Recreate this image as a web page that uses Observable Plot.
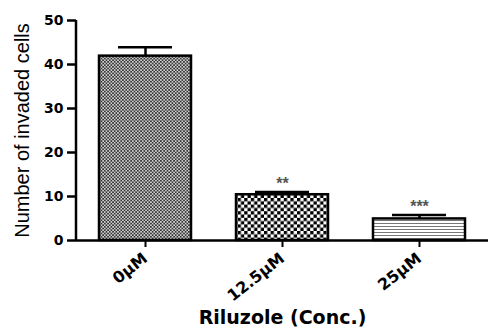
<!DOCTYPE html>
<html>
<head>
<meta charset="utf-8">
<script src="https://cdn.jsdelivr.net/npm/d3@7"></script>
<script src="https://cdn.jsdelivr.net/npm/@observablehq/plot@0.6"></script>
<style>
  html, body { margin: 0; padding: 0; background: #fff; }
  svg { font-family: "Liberation Sans", Arial, sans-serif; }
</style>
</head>
<body>
<div id="chart"></div>
<script>
const categories = ["0μM", "12.5μM", "25μM"];
const means = [41.9, 10.4, 4.9];
const errors = [2.0, 0.6, 0.9];
const stars = ["", "**", "***"];
const yTicks = [0, 10, 20, 30, 40, 50];
const xLabel = "Riluzole (Conc.)";
const yLabel = "Number of invaded cells";

const patternIds = ["pFine", "pCoarse", "pLines"];
const data = categories.map((c, i) => ({
  conc: c, mean: means[i], top: means[i] + errors[i], star: stars[i], pat: `url(#${patternIds[i]})`
}));

const boldFont = "DejaVu Sans, sans-serif";

const plot = Plot.plot({
  width: 488,
  height: 329,
  marginLeft: 76,
  marginRight: 0,
  marginTop: 20,
  marginBottom: 89,
  style: {fontFamily: "Liberation Sans, Arial, sans-serif", background: "#fff", color: "#000"},
  x: {domain: categories, paddingInner: 0.33, paddingOuter: 0.165, axis: null},
  y: {domain: [0, 50], axis: null},
  color: {type: "identity"},
  marks: [
    Plot.barY(data, {x: "conc", y: "mean", fill: "pat", stroke: "black", strokeWidth: 2.5}),
    Plot.ruleX(data, {x: "conc", y1: "mean", y2: "top", stroke: "black", strokeWidth: 2.5}),
    Plot.tickY(data, {x: "conc", y: "top", stroke: "black", strokeWidth: 2.5, insetLeft: 19, insetRight: 19}),
    Plot.text(data, {x: "conc", y: "top", text: "star", dy: -8, fill: "#555", fontSize: 16, fontWeight: "bold"}),
    Plot.ruleY([0], {stroke: "black", strokeWidth: 2.5}),
    Plot.axisY({ticks: yTicks, tickSize: 9, tickPadding: 4, strokeWidth: 2.5, fontSize: 14, fontWeight: "bold", fontFamily: boldFont, label: null}),
    Plot.axisX({tickSize: 7, tickPadding: 9, strokeWidth: 2, tickRotate: -38, fontSize: 16, fontWeight: "bold", fontFamily: boldFont, label: null}),
    Plot.text([xLabel], {frameAnchor: "bottom", dy: 83, fontSize: 19, fontWeight: "bold", fontFamily: boldFont}),
    Plot.text([yLabel], {frameAnchor: "left", textAnchor: "middle", rotate: -90, dx: -54, fontSize: 20})
  ]
});

const svg = d3.select(plot);
const defs = svg.insert("defs", ":first-child");
// fine grey checkerboard
const p1 = defs.append("pattern").attr("id", "pFine").attr("patternUnits", "userSpaceOnUse").attr("width", 3.3).attr("height", 3.3);
p1.append("rect").attr("width", 3.3).attr("height", 3.3).attr("fill", "#d0d0d0");
p1.append("rect").attr("width", 1.65).attr("height", 1.65).attr("fill", "#333");
p1.append("rect").attr("x", 1.65).attr("y", 1.65).attr("width", 1.65).attr("height", 1.65).attr("fill", "#333");
// coarse checkerboard
const p2 = defs.append("pattern").attr("id", "pCoarse").attr("patternUnits", "userSpaceOnUse").attr("width", 6.6).attr("height", 6.6);
p2.append("rect").attr("width", 6.6).attr("height", 6.6).attr("fill", "#fff");
p2.append("rect").attr("width", 3.3).attr("height", 3.3).attr("fill", "#000");
p2.append("rect").attr("x", 3.3).attr("y", 3.3).attr("width", 3.3).attr("height", 3.3).attr("fill", "#000");
// horizontal lines
const p3 = defs.append("pattern").attr("id", "pLines").attr("patternUnits", "userSpaceOnUse").attr("width", 6).attr("height", 3);
p3.append("rect").attr("width", 6).attr("height", 3).attr("fill", "#fff");
p3.append("rect").attr("y", 1).attr("width", 6).attr("height", 1).attr("fill", "#777");

// y axis line
const y = plot.scale("y");
svg.append("line")
  .attr("x1", 76).attr("x2", 76)
  .attr("y1", y.range[1]).attr("y2", y.range[0] + 1)
  .attr("stroke", "black").attr("stroke-width", 2.5);

document.getElementById("chart").appendChild(plot);
</script>
</body>
</html>
